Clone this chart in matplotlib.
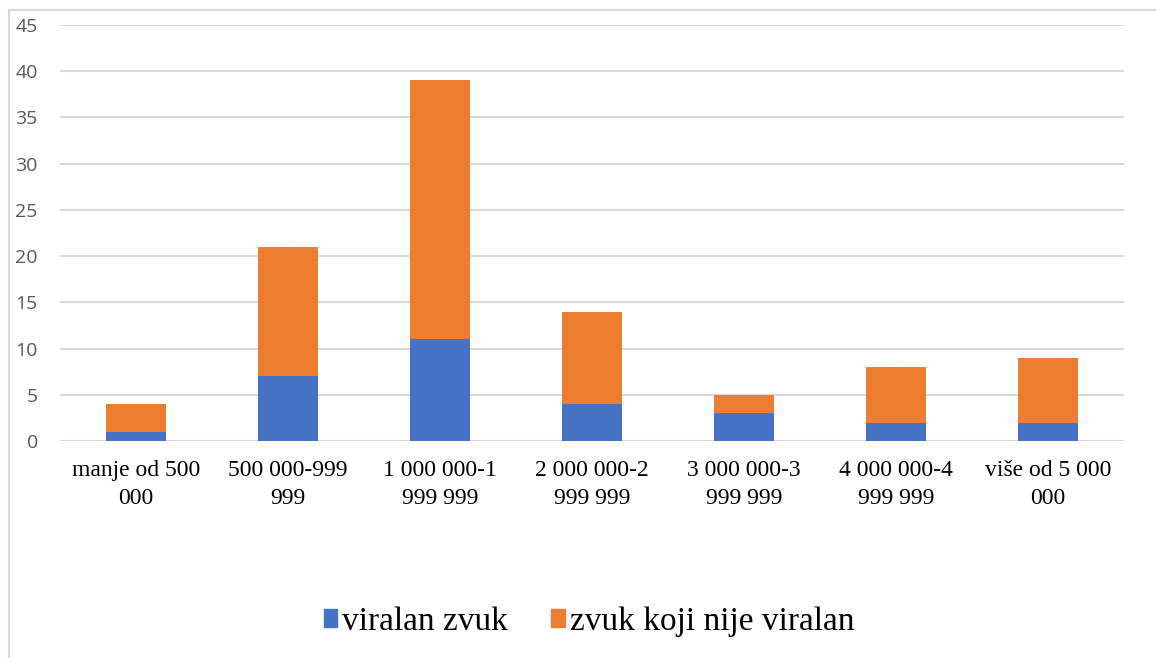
import matplotlib.pyplot as plt
from matplotlib.lines import Line2D
from matplotlib.patches import Patch

categories = ['manje od 500\n000', '500 000-999\n999', '1 000 000-1\n999 999',
              '2 000 000-2\n999 999', '3 000 000-3\n999 999', '4 000 000-4\n999 999',
              'više od 5 000\n000']
viral = [1, 7, 11, 4, 3, 2, 2]
not_viral = [3, 14, 28, 10, 2, 6, 7]
series_names = ['viralan zvuk', 'zvuk koji nije viralan']
blue = '#4472C4'
orange = '#ED7D31'

fig = plt.figure(figsize=(11.56, 6.58), dpi=100)
ax = fig.add_axes([60 / 1156, 1 - 441 / 658, 1064 / 1156, 416 / 658])

x = range(len(categories))
ax.bar(x, viral, width=0.395, color=blue, zorder=3)
ax.bar(x, not_viral, width=0.395, bottom=viral, color=orange, zorder=3)

ax.set_xlim(-0.5, len(categories) - 0.5)
ax.set_ylim(0, 45)
ax.set_yticks(range(0, 46, 5))
ax.grid(axis='y', color='#d9d9d9', linewidth=1.5, zorder=0)
for s in ax.spines.values():
    s.set_visible(False)
ax.tick_params(axis='both', length=0)
ax.tick_params(axis='y', labelsize=14, labelcolor='#595959', pad=16)
ax.set_yticklabels([str(v) for v in range(0, 46, 5)], family='Open Sans')
ax.set_xticks(list(x))
ax.set_xticklabels(categories, family='Liberation Serif', fontsize=17,
                   linespacing=1.38)
ax.tick_params(axis='x', pad=14)

handles = [Patch(color=blue), Patch(color=orange)]
fig.legend(handles, series_names, loc='center', bbox_to_anchor=(589 / 1156, 1 - 622 / 658),
           ncol=2, frameon=False, prop={'family': 'Liberation Serif', 'size': 24},
           handlelength=0.4, handleheight=0.45, handletextpad=0.15, columnspacing=1.3)

# outer chart border
fig.add_artist(Line2D([9 / 1156, 9 / 1156], [0, 1 - 10 / 658], color='#d9d9d9',
                      linewidth=1.5, transform=fig.transFigure))
fig.add_artist(Line2D([9 / 1156, 1], [1 - 10 / 658, 1 - 10 / 658], color='#d9d9d9',
                      linewidth=1.5, transform=fig.transFigure))

fig.savefig('out.png', dpi=100)
